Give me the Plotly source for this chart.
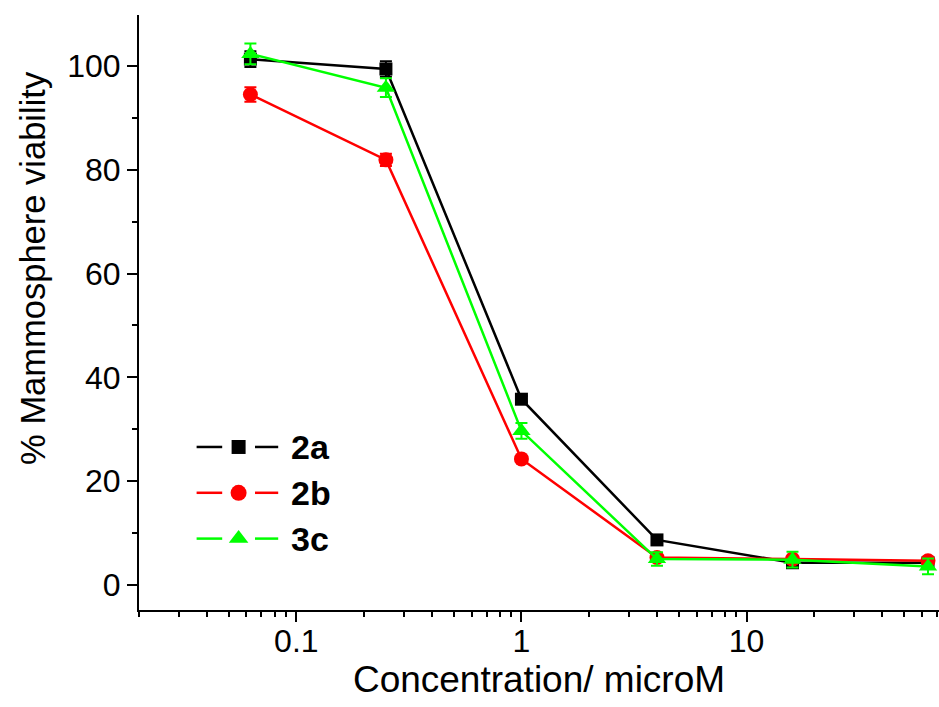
import plotly.graph_objects as go

# Concentrations (microM), 4-fold dilution series
conc = [0.0625, 0.25, 1.0, 4.0, 16.0, 64.0]

names = ["2a", "2b", "3c"]
viab_2a = [101.3, 99.4, 35.8, 8.7, 4.3, 4.3]
err_2a = [1.5, 1.5, 0.6, 0.5, 0.4, 0.4]
viab_2b = [94.5, 81.9, 24.3, 5.3, 5.0, 4.7]
err_2b = [1.4, 1.2, 0.5, 0.5, 0.4, 0.5]
viab_3c = [102.3, 95.8, 29.7, 5.0, 4.9, 3.6]
err_3c = [2.0, 1.8, 1.5, 1.3, 1.5, 1.5]

colors = ["#000000", "#ff0000", "#00ff00"]
symbols = ["square", "circle", "triangle-up"]
msizes = [13, 15, 16]

series = [(viab_2a, err_2a), (viab_2b, err_2b), (viab_3c, err_3c)]

FONT = "Liberation Sans, Arial"

fig = go.Figure()
for (vals, errs), name, col, sym, ms in zip(series, names, colors, symbols, msizes):
    fig.add_trace(go.Scatter(
        x=conc, y=vals, name=name, mode="lines+markers",
        line=dict(color=col, width=2.5),
        marker=dict(symbol=sym, size=ms, color=col),
        error_y=dict(type="data", array=errs, visible=True,
                     color=col, thickness=2, width=6),
        showlegend=False,
    ))

# Legend drawn on an invisible overlay axis (0..1 in both directions)
leg_y = [0.274, 0.197, 0.120]
for name, col, sym, ms, yy in zip(names, colors, symbols, msizes, leg_y):
    for x0, x1 in [(0.072, 0.104), (0.145, 0.174)]:
        fig.add_trace(go.Scatter(
            x=[x0, x1], y=[yy, yy], mode="lines", xaxis="x2", yaxis="y2",
            line=dict(color=col, width=2.5), showlegend=False, hoverinfo="skip"))
    fig.add_trace(go.Scatter(
        x=[0.1245], y=[yy], mode="markers", xaxis="x2", yaxis="y2",
        marker=dict(symbol=sym, size=ms + 1, color=col), showlegend=False,
        hoverinfo="skip"))
    fig.add_annotation(
        x=0.188, y=yy, xref="x2", yref="y2", text="<b>%s</b>" % name,
        showarrow=False, xanchor="left", yanchor="middle",
        font=dict(family=FONT, size=34, color="black"))

# Y axis title placed as a rotated annotation
fig.add_annotation(
    x=-0.1325, y=0.575, xref="paper", yref="paper",
    text="% Mammosphere viability", textangle=-90, showarrow=False,
    xanchor="center", yanchor="middle",
    font=dict(family=FONT, size=34.5, color="black"))

fig.update_layout(
    width=939, height=707,
    margin=dict(l=139, r=0, t=15, b=97),
    paper_bgcolor="white", plot_bgcolor="white",
    font=dict(family=FONT, color="black"),
    showlegend=False,
    xaxis=dict(
        type="log", range=[-1.699, 1.855], dtick=1,
        showline=True, linecolor="black", linewidth=2,
        ticks="outside", ticklen=10, tickwidth=2, tickcolor="black",
        showgrid=False, zeroline=False,
        tickfont=dict(size=32), ticklabelstandoff=-8,
        minor=dict(dtick="D1", ticks="outside", ticklen=5, tickwidth=2,
                   tickcolor="black", showgrid=False),
        title=dict(text="Concentration/ microM", font=dict(size=37), standoff=8),
    ),
    yaxis=dict(
        range=[-4.8, 109.8], dtick=20,
        showline=True, linecolor="black", linewidth=2,
        ticks="outside", ticklen=10, tickwidth=2, tickcolor="black",
        showgrid=False, zeroline=False,
        tickfont=dict(size=32),
        minor=dict(dtick=10, ticks="outside", ticklen=5, tickwidth=2,
                   tickcolor="black", showgrid=False),
    ),
    xaxis2=dict(overlaying="x", range=[0, 1], visible=False),
    yaxis2=dict(overlaying="y", range=[0, 1], visible=False),
)

fig.write_html("out.html")
